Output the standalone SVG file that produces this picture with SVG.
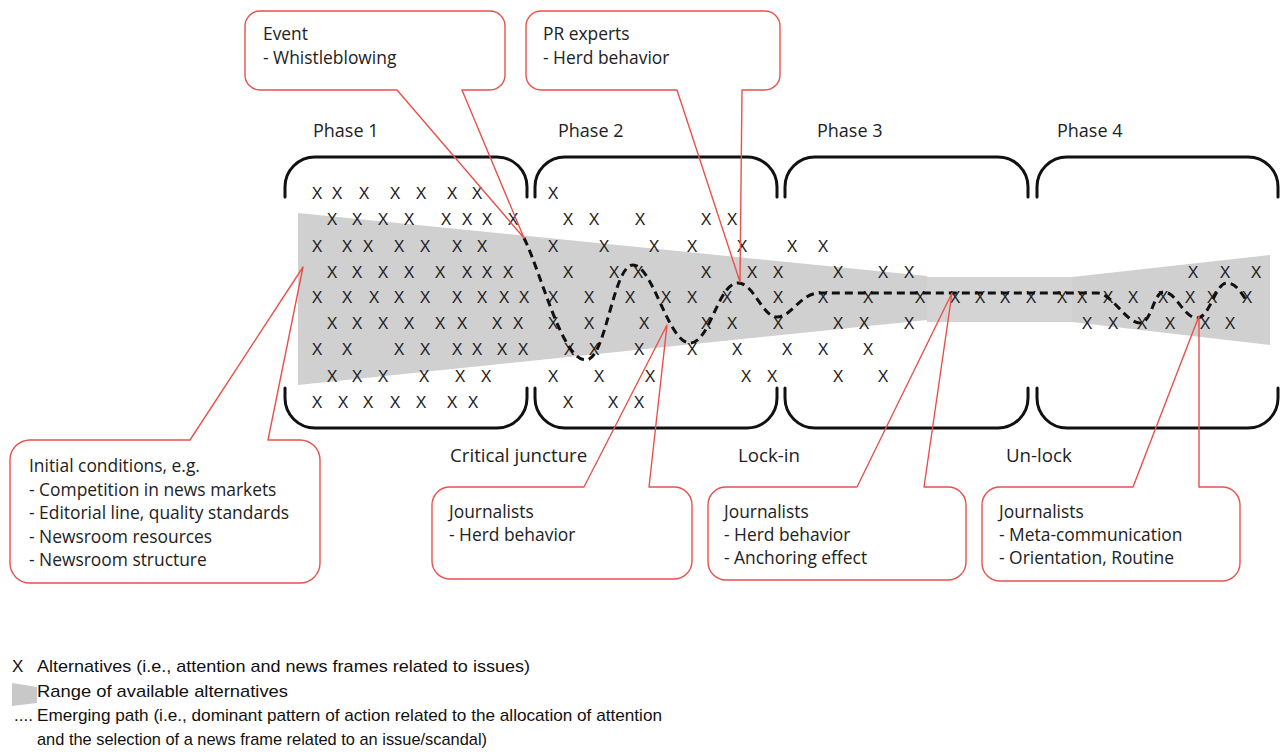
<svg xmlns="http://www.w3.org/2000/svg" width="1281" height="756" viewBox="0 0 1281 756">
<style>
.bk{fill:none;stroke:#111;stroke-width:3;stroke-linecap:round}
.gr{fill:#d0d0d0}
.x text,.x{font-family:"Liberation Sans",Arial,sans-serif;font-size:16px;fill:#222;text-anchor:middle}
.co{fill:none;stroke:#e8524c;stroke-width:1.4;stroke-linejoin:round}
.t{font-family:"Open Sans","Liberation Sans",sans-serif;font-size:17.4px;fill:#222}
.ph{font-family:"Open Sans","Liberation Sans",sans-serif;font-size:18px;fill:#222}
.lb{font-family:"Open Sans","Liberation Sans",sans-serif;font-size:18.7px;fill:#222}
.lg{font-family:"Liberation Sans Narrow","Liberation Sans",Arial,sans-serif;font-size:17px;fill:#111}
.path{fill:none;stroke:#111;stroke-width:3;stroke-dasharray:8 5}
</style>
<rect width="1281" height="756" fill="#fff"/>

<g id="range">
<polygon class="gr" points="298,213 927,276 927,320 298,385"/>
<rect x="927" y="277" width="145" height="45" fill="#d4d4d4"/>
<polygon class="gr" points="1072,277 1270,255 1270,345 1072,322"/>
</g>

<g id="phase1"><path class="bk" d="M285,197 V187 A30,30 0 0 1 315,157 H497 A30,30 0 0 1 527,187 V197"/><path class="bk" d="M285,388 V398 A30,30 0 0 0 315,428 H497 A30,30 0 0 0 527,398 V388"/><text class="ph" x="313" y="137">Phase 1</text></g>
<g id="phase2"><path class="bk" d="M535,197 V187 A30,30 0 0 1 565,157 H747 A30,30 0 0 1 777,187 V197"/><path class="bk" d="M535,388 V398 A30,30 0 0 0 565,428 H747 A30,30 0 0 0 777,398 V388"/><text class="ph" x="558" y="137">Phase 2</text><text class="lb" x="450" y="462">Critical juncture</text></g>
<g id="phase3"><path class="bk" d="M785,197 V187 A30,30 0 0 1 815,157 H998 A30,30 0 0 1 1028,187 V197"/><path class="bk" d="M785,388 V398 A30,30 0 0 0 815,428 H998 A30,30 0 0 0 1028,398 V388"/><text class="ph" x="817" y="137">Phase 3</text><text class="lb" x="738" y="462">Lock-in</text></g>
<g id="phase4"><path class="bk" d="M1037,197 V187 A30,30 0 0 1 1067,157 H1248 A30,30 0 0 1 1278,187 V197"/><path class="bk" d="M1037,388 V398 A30,30 0 0 0 1067,428 H1248 A30,30 0 0 0 1278,398 V388"/><text class="ph" x="1057" y="137">Phase 4</text><text class="lb" x="1006" y="462">Un-lock</text></g>

<g id="alternatives" class="x">
<text y="199"><tspan x="317">X</tspan><tspan x="337">X</tspan><tspan x="364">X</tspan><tspan x="395">X</tspan><tspan x="421">X</tspan><tspan x="452">X</tspan><tspan x="477">X</tspan><tspan x="553">X</tspan></text>
<text y="225"><tspan x="332">X</tspan><tspan x="357">X</tspan><tspan x="383">X</tspan><tspan x="409">X</tspan><tspan x="446">X</tspan><tspan x="467">X</tspan><tspan x="487">X</tspan><tspan x="513">X</tspan><tspan x="568">X</tspan><tspan x="594">X</tspan><tspan x="640">X</tspan><tspan x="706">X</tspan><tspan x="732">X</tspan></text>
<text y="252"><tspan x="317">X</tspan><tspan x="347">X</tspan><tspan x="368">X</tspan><tspan x="399">X</tspan><tspan x="425">X</tspan><tspan x="457">X</tspan><tspan x="482">X</tspan><tspan x="553">X</tspan><tspan x="604">X</tspan><tspan x="654">X</tspan><tspan x="692">X</tspan><tspan x="742">X</tspan><tspan x="792">X</tspan><tspan x="823">X</tspan></text>
<text y="278"><tspan x="332">X</tspan><tspan x="357">X</tspan><tspan x="383">X</tspan><tspan x="409">X</tspan><tspan x="440">X</tspan><tspan x="467">X</tspan><tspan x="487">X</tspan><tspan x="508">X</tspan><tspan x="568">X</tspan><tspan x="614">X</tspan><tspan x="638">X</tspan><tspan x="706">X</tspan><tspan x="752">X</tspan><tspan x="778">X</tspan><tspan x="838">X</tspan><tspan x="883">X</tspan><tspan x="909">X</tspan><tspan x="1193">X</tspan><tspan x="1225">X</tspan><tspan x="1256">X</tspan></text>
<text y="303"><tspan x="317">X</tspan><tspan x="347">X</tspan><tspan x="374">X</tspan><tspan x="399">X</tspan><tspan x="425">X</tspan><tspan x="457">X</tspan><tspan x="482">X</tspan><tspan x="504">X</tspan><tspan x="524">X</tspan><tspan x="553">X</tspan><tspan x="589">X</tspan><tspan x="630">X</tspan><tspan x="666">X</tspan><tspan x="692">X</tspan><tspan x="727">X</tspan><tspan x="778">X</tspan><tspan x="823">X</tspan><tspan x="868">X</tspan><tspan x="920">X</tspan><tspan x="955">X</tspan><tspan x="980">X</tspan><tspan x="1005">X</tspan><tspan x="1031">X</tspan><tspan x="1062">X</tspan><tspan x="1082">X</tspan><tspan x="1108">X</tspan><tspan x="1133">X</tspan><tspan x="1163">X</tspan><tspan x="1190">X</tspan><tspan x="1212">X</tspan><tspan x="1247">X</tspan></text>
<text y="329"><tspan x="332">X</tspan><tspan x="357">X</tspan><tspan x="383">X</tspan><tspan x="409">X</tspan><tspan x="440">X</tspan><tspan x="462">X</tspan><tspan x="497">X</tspan><tspan x="518">X</tspan><tspan x="553">X</tspan><tspan x="589">X</tspan><tspan x="644">X</tspan><tspan x="706">X</tspan><tspan x="732">X</tspan><tspan x="778">X</tspan><tspan x="838">X</tspan><tspan x="864">X</tspan><tspan x="909">X</tspan><tspan x="1087">X</tspan><tspan x="1113">X</tspan><tspan x="1142">X</tspan><tspan x="1170">X</tspan><tspan x="1205">X</tspan><tspan x="1230">X</tspan></text>
<text y="355"><tspan x="317">X</tspan><tspan x="347">X</tspan><tspan x="399">X</tspan><tspan x="425">X</tspan><tspan x="457">X</tspan><tspan x="477">X</tspan><tspan x="502">X</tspan><tspan x="523">X</tspan><tspan x="569">X</tspan><tspan x="594">X</tspan><tspan x="639">X</tspan><tspan x="692">X</tspan><tspan x="737">X</tspan><tspan x="787">X</tspan><tspan x="823">X</tspan><tspan x="868">X</tspan></text>
<text y="382"><tspan x="332">X</tspan><tspan x="357">X</tspan><tspan x="383">X</tspan><tspan x="424">X</tspan><tspan x="460">X</tspan><tspan x="486">X</tspan><tspan x="553">X</tspan><tspan x="599">X</tspan><tspan x="650">X</tspan><tspan x="746">X</tspan><tspan x="772">X</tspan><tspan x="838">X</tspan><tspan x="883">X</tspan></text>
<text y="408"><tspan x="317">X</tspan><tspan x="343">X</tspan><tspan x="368">X</tspan><tspan x="395">X</tspan><tspan x="421">X</tspan><tspan x="452">X</tspan><tspan x="473">X</tspan><tspan x="568">X</tspan><tspan x="613">X</tspan><tspan x="639">X</tspan></text>
</g>

<g id="connectors">
<path id="emerging-path" class="path" d="M524,238 C542,275 562,360 586,360 C606,360 613,265 633,265 C653,265 668,343 690,343 C710,343 718,283 738,283 C754,283 762,317 777,317 C792,317 800,293 820,293 L1097,293 C1112,293 1126,323 1140,323 C1152,323 1153,292 1164,292 C1176,292 1184,318 1197,318 C1210,318 1215,283 1227,283 C1237,283 1242,295 1248,302"/>
</g>

<g id="event"><path class="co" d="M260,11 H490 A15,15 0 0 1 505,26 V75 A15,15 0 0 1 490,90 H462 L524,238 L397,90 H260 A15,15 0 0 1 245,75 V26 A15,15 0 0 1 260,11 Z"/>
<text class="t" x="263" y="40">Event</text><text class="t" x="263" y="64">- Whistleblowing</text></g>
<g id="pr-experts"><path class="co" d="M541,11 H765 A15,15 0 0 1 780,26 V75 A15,15 0 0 1 765,90 H742 L740,282 L677,90 H541 A15,15 0 0 1 526,75 V26 A15,15 0 0 1 541,11 Z"/>
<text class="t" x="543" y="40">PR experts</text><text class="t" x="543" y="64">- Herd behavior</text></g>
<g id="initial-conditions"><path class="co" d="M30,440 H190 L303,267 L268,440 H300 A20,20 0 0 1 320,460 V563 A20,20 0 0 1 300,583 H30 A20,20 0 0 1 10,563 V460 A20,20 0 0 1 30,440 Z"/>
<text class="t" x="29" y="472">Initial conditions, e.g.</text><text class="t" x="29" y="495.5">- Competition in news markets</text><text class="t" x="29" y="519">- Editorial line, quality standards</text><text class="t" x="29" y="542.5">- Newsroom resources</text><text class="t" x="29" y="566">- Newsroom structure</text></g>
<g id="journalists-1"><path class="co" d="M450,487 H584 L667,325 L649,487 H674 A18,18 0 0 1 692,505 V561 A18,18 0 0 1 674,579 H450 A18,18 0 0 1 432,561 V505 A18,18 0 0 1 450,487 Z"/>
<text class="t" x="449" y="518">Journalists</text><text class="t" x="449" y="541">- Herd behavior</text></g>
<g id="journalists-2"><path class="co" d="M726,487 H857 L952,293 L924,487 H948 A18,18 0 0 1 966,505 V562 A18,18 0 0 1 948,580 H726 A18,18 0 0 1 708,562 V505 A18,18 0 0 1 726,487 Z"/>
<text class="t" x="724" y="518">Journalists</text><text class="t" x="724" y="541">- Herd behavior</text><text class="t" x="724" y="564">- Anchoring effect</text></g>
<g id="journalists-3"><path class="co" d="M1000,487 H1133 L1199,316 L1199,487 H1222 A18,18 0 0 1 1240,505 V563 A18,18 0 0 1 1222,581 H1000 A18,18 0 0 1 982,563 V505 A18,18 0 0 1 1000,487 Z"/>
<text class="t" x="999" y="518">Journalists</text><text class="t" x="999" y="541">- Meta-communication</text><text class="t" x="999" y="564">- Orientation, Routine</text></g>

<g id="legend">
<text class="lg" x="12" y="672">X</text>
<text class="lg" x="37" y="672" textLength="493" lengthAdjust="spacingAndGlyphs">Alternatives (i.e., attention and news frames related to issues)</text>
<polygon points="12,683 37,687 37,703 12,706" fill="#c8c8c8"/>
<text class="lg" x="37" y="697" textLength="251" lengthAdjust="spacingAndGlyphs">Range of available alternatives</text>
<text class="lg" x="14" y="721">....</text>
<text class="lg" x="37" y="721" textLength="625" lengthAdjust="spacingAndGlyphs">Emerging path (i.e., dominant pattern of action related to the allocation of attention</text>
<text class="lg" x="37" y="745" textLength="450" lengthAdjust="spacingAndGlyphs">and the selection of a news frame related to an issue/scandal)</text>
</g>
</svg>
